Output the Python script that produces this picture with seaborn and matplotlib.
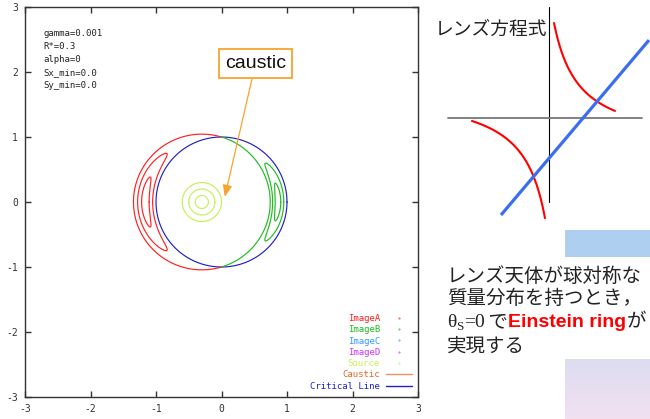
import numpy as np
import matplotlib
matplotlib.use("Agg")
import matplotlib.pyplot as plt
from matplotlib.lines import Line2D
from matplotlib.patches import Rectangle
from matplotlib.font_manager import FontProperties
import seaborn as sns

# ---- lens model / plot data ----
param_lines = ["gamma=0.001", "R*=0.3", "alpha=0", "Sx_min=0.0", "Sy_min=0.0"]
source_center = [-0.3, 0.0]
source_radii = [0.1, 0.2, 0.3]
einstein_radius = 1.0
axis_ticks = [-3, -2, -1, 0, 1, 2, 3]
caustic_label_pos = [0.52, 2.13]
caustic_arrow_tip = [0.05, 0.08]

legend_labels = ["ImageA", "ImageB", "ImageC", "ImageD", "Source", "Caustic", "Critical Line"]
legend_colors = ["#ff2020", "#22bb22", "#3399ff", "#cc33ff", "#c6f05a", "#e0662a", "#2020c8"]
image_a_color, image_b_color = legend_colors[0], legend_colors[1]
source_color, caustic_color, critical_color = legend_colors[4], legend_colors[5], legend_colors[6]

# ---- right-hand schematic of the lens equation (pixel-like units) ----
branch_amp = 3100.0
branch_shift = [20.0, 29.0]
upper_branch_x = [5.0, 66.0]
lower_branch_x = [-77.0, -4.0]
line_slope, line_icept = 1.182, -40.3
line_x = [-48.0, 100.0]
vaxis_y = [-84.0, 111.0]
haxis_x = [-101.0, 93.0]

title_jp = "レンズ方程式"
para_lines = ["レンズ天体が球対称な", "質量分布を持つとき，", None, "実現する"]

W, H = 650, 419

sns.set_theme(style="white")
plt.rcParams["font.family"] = ["DejaVu Sans", "Noto Sans CJK JP"]
plt.rcParams["axes.unicode_minus"] = False

fig = plt.figure(figsize=(W / 100, H / 100), dpi=100)
fig.patch.set_facecolor("white")

ax = fig.add_axes([25 / W, 22 / H, 393 / W, 390 / H])
ax.set_facecolor("white")


def lens_images(cx, cy, r, n=900):
    t = np.linspace(1e-3, 2 * np.pi - 1e-3, n)
    sx = cx + r * np.cos(t)
    sy = cy + r * np.sin(t)
    beta = np.hypot(sx, sy)
    ux, uy = sx / beta, sy / beta
    root = np.sqrt(beta ** 2 + 4 * einstein_radius ** 2)
    plus = (beta + root) / 2
    minus = (beta - root) / 2
    return (ux * plus, uy * plus), (ux * minus, uy * minus), (sx, sy)


def curve(x, y, color, lw=0.85):
    sns.lineplot(x=x, y=y, sort=False, estimator=None, color=color, lw=lw, ax=ax)


# critical line (Einstein ring)
phi = np.linspace(0, 2 * np.pi, 720)
curve(einstein_radius * np.cos(phi), einstein_radius * np.sin(phi), critical_color)

for r in source_radii:
    (ax_, ay_), (bx_, by_), (sx, sy) = lens_images(source_center[0], source_center[1], r)
    curve(ax_, ay_, image_a_color)
    curve(bx_, by_, image_b_color)
    curve(np.append(sx, sx[0]), np.append(sy, sy[0]), source_color)

ax.set_xlim(-3, 3)
ax.set_ylim(-3, 3)
ax.set_xticks(axis_ticks)
ax.set_yticks(axis_ticks)
ax.set_xticklabels([str(v) for v in axis_ticks])
ax.set_yticklabels([str(v) for v in axis_ticks])
tick_font = FontProperties(family="DejaVu Sans Mono", size=7)
for lab in ax.get_xticklabels() + ax.get_yticklabels():
    lab.set_fontproperties(tick_font)
    lab.set_color("#222222")
ax.tick_params(direction="in", length=4, width=1, top=True, right=True,
               bottom=True, left=True, pad=5, colors="#333333")
for sp in ax.spines.values():
    sp.set_visible(True)
    sp.set_color("#333333")
    sp.set_linewidth(1.0)
ax.set_xlabel("")
ax.set_ylabel("")

ax.text(0.048, 0.943, "\n".join(param_lines), transform=ax.transAxes, va="top", ha="left",
        fontproperties=FontProperties(family="DejaVu Sans Mono", size=6.5),
        linespacing=1.55, color="#222222")

# legend
handles = []
for lab, c in zip(legend_labels, legend_colors):
    if lab in ("Caustic", "Critical Line"):
        lc = "#f09060" if lab == "Caustic" else c
        handles.append(Line2D([], [], color=lc, lw=1.0))
    else:
        handles.append(Line2D([], [], ls="none", marker=".", markersize=0.8, color=c))
ax.legend(handles, legend_labels, loc="lower right", markerfirst=False, frameon=False,
          prop=FontProperties(family="DejaVu Sans Mono", size=6.5), labelcolor=legend_colors,
          handlelength=2.8, handletextpad=0.7, labelspacing=0.25, borderaxespad=0.5,
          borderpad=0.2)

# caustic call-out
ax.annotate("caustic", xy=caustic_arrow_tip, xytext=caustic_label_pos,
            ha="center", va="center", fontsize=14, family="Liberation Sans", color="#111111",
            bbox=dict(boxstyle="square,pad=0.32", fc="white", ec="#f7a32c", lw=1.3),
            arrowprops=dict(arrowstyle="-|>,head_length=0.5,head_width=0.2", color="#f7a32c",
                            lw=0.9, shrinkA=0, shrinkB=0))

# ---- schematic axes ----
ax2 = fig.add_axes([440 / W, (H - 225) / H, 210 / W, 225 / H])
ax2.set_xlim(-109, 101)
ax2.set_ylim(-107, 118)
ax2.axis("off")
ax2.plot([0, 0], vaxis_y, color="black", lw=0.8)
ax2.plot(haxis_x, [0, 0], color="#777777", lw=1.3)
xu = np.linspace(upper_branch_x[0], upper_branch_x[1], 200)
ax2.plot(xu, branch_amp / (xu + branch_shift[0]) - branch_shift[1], color="#ff0000", lw=1.5)
xl = np.linspace(lower_branch_x[0], lower_branch_x[1], 200)
ax2.plot(xl, branch_amp / (xl - branch_shift[0]) + branch_shift[1], color="#ff0000", lw=1.5)
xb = np.array(line_x)
ax2.plot(xb, line_slope * xb + line_icept, color="#3a6df0", lw=2.3, solid_capstyle="butt")

jp = "Noto Sans CJK JP"
fig.text(435 / W, 1 - 35 / H, title_jp, family=jp, fontsize=13.5, color="#222222",
         ha="left", va="baseline")

# decorative blocks
fig.patches.append(Rectangle((565 / W, (H - 257) / H), 85 / W, 27 / H,
                             transform=fig.transFigure, facecolor="#afcff1", edgecolor="none"))
axg = fig.add_axes([565 / W, 0, 85 / W, 60 / H])
top_c = np.array([220, 220, 240]) / 255
bot_c = np.array([241, 225, 241]) / 255
grad = np.linspace(0, 1, 60)[:, None, None] * (bot_c - top_c) + top_c
axg.imshow(np.repeat(grad, 2, axis=1), aspect="auto", extent=[0, 1, 0, 1])
axg.axis("off")

# paragraph
baselines = [282, 304, 327, 352]
for txt, yb in zip(para_lines, baselines):
    if txt is not None:
        fig.text(447 / W, 1 - yb / H, txt, family=jp, fontsize=14, color="#222222",
                 ha="left", va="baseline")

renderer = fig.canvas.get_renderer()
serif = dict(family="Liberation Serif", color="#222222")
runs = [
    ("θ", dict(fontsize=14, **serif), 0),
    ("S", dict(fontsize=9.5, **serif), 3),
    ("=0", dict(fontsize=14, **serif), 0),
    (" で", dict(family=jp, fontsize=14, color="#222222"), 0),
    ("Einstein ring", dict(family="Liberation Sans", fontsize=14, weight="bold", color="#ff0000"), 0),
    ("が", dict(family=jp, fontsize=14, color="#222222"), 0),
]
xpos = 447.0
for s, kw, drop in runs:
    t = fig.text(xpos / W, 1 - (baselines[2] + drop) / H, s, ha="left", va="baseline", **kw)
    xpos += t.get_window_extent(renderer).width

fig.savefig("out.png", dpi=100, facecolor="white")
